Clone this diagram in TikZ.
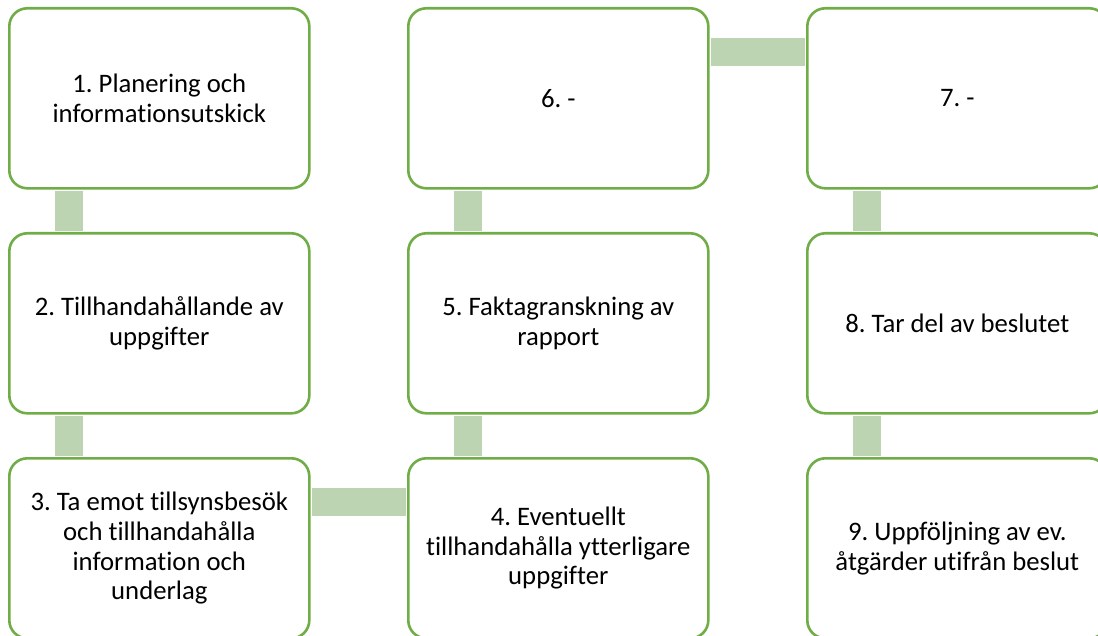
\documentclass[tikz,border=0pt]{standalone}
\usepackage{fontspec}
\setmainfont[Ligatures={NoCommon}]{Carlito}
\usetikzlibrary{calc}
\frenchspacing
\definecolor{boxgreen}{RGB}{112,173,71}
\definecolor{connfill}{RGB}{188,212,177}
\tikzset{
  stepbox/.style={draw=boxgreen, line width=2.6bp, fill=white, rounded corners=18bp,
    minimum width=300bp, minimum height=180bp, anchor=north west, align=center,
    inner sep=0pt, font=\fontsize{26.8}{29.7}\selectfont},
  conn/.style={draw=connfill, line width=28bp, line cap=butt}
}
\begin{document}
\begin{tikzpicture}[x=1bp,y=-1bp]
\useasboundingbox (0,0) rectangle (1098,636);
\clip (0,0) rectangle (1098,636);
\node[stepbox] (b1) at (8,7) {1. Planering och\\informationsutskick};
\node[stepbox] (b2) at (8,232) {2. Tillhandahållande av\\uppgifter};
\node[stepbox] (b3) at (8,457) {3. Ta emot tillsynsbesök\\och tillhandahålla\\information och\\underlag};
\node[stepbox] (b4) at (407,457) {4. Eventuellt\\tillhandahålla ytterligare\\uppgifter};
\node[stepbox] (b5) at (407,232) {5. Faktagranskning av\\rapport};
\node[stepbox] (b6) at (407,7) {6. -};
\node[stepbox] (b7) at (806,7) {7. -};
\node[stepbox] (b8) at (806,232) {8. Tar del av beslutet};
\node[stepbox] (b9) at (806,457) {9. Uppföljning av ev.\\åtgärder utifrån beslut};
\path[conn] ($(b1.south west)+(61,1.3)$) -- ($(b2.north west)+(61,-1.3)$);
\path[conn] ($(b2.south west)+(61,1.3)$) -- ($(b3.north west)+(61,-1.3)$);
\path[conn] ($(b3.north east)+(1.3,45)$) -- ($(b4.north west)+(-1.3,45)$);
\path[conn] ($(b4.north west)+(61,-1.3)$) -- ($(b5.south west)+(61,1.3)$);
\path[conn] ($(b5.north west)+(61,-1.3)$) -- ($(b6.south west)+(61,1.3)$);
\path[conn] ($(b6.north east)+(1.3,45)$) -- ($(b7.north west)+(-1.3,45)$);
\path[conn] ($(b7.south west)+(61,1.3)$) -- ($(b8.north west)+(61,-1.3)$);
\path[conn] ($(b8.south west)+(61,1.3)$) -- ($(b9.north west)+(61,-1.3)$);
\end{tikzpicture}
\end{document}
